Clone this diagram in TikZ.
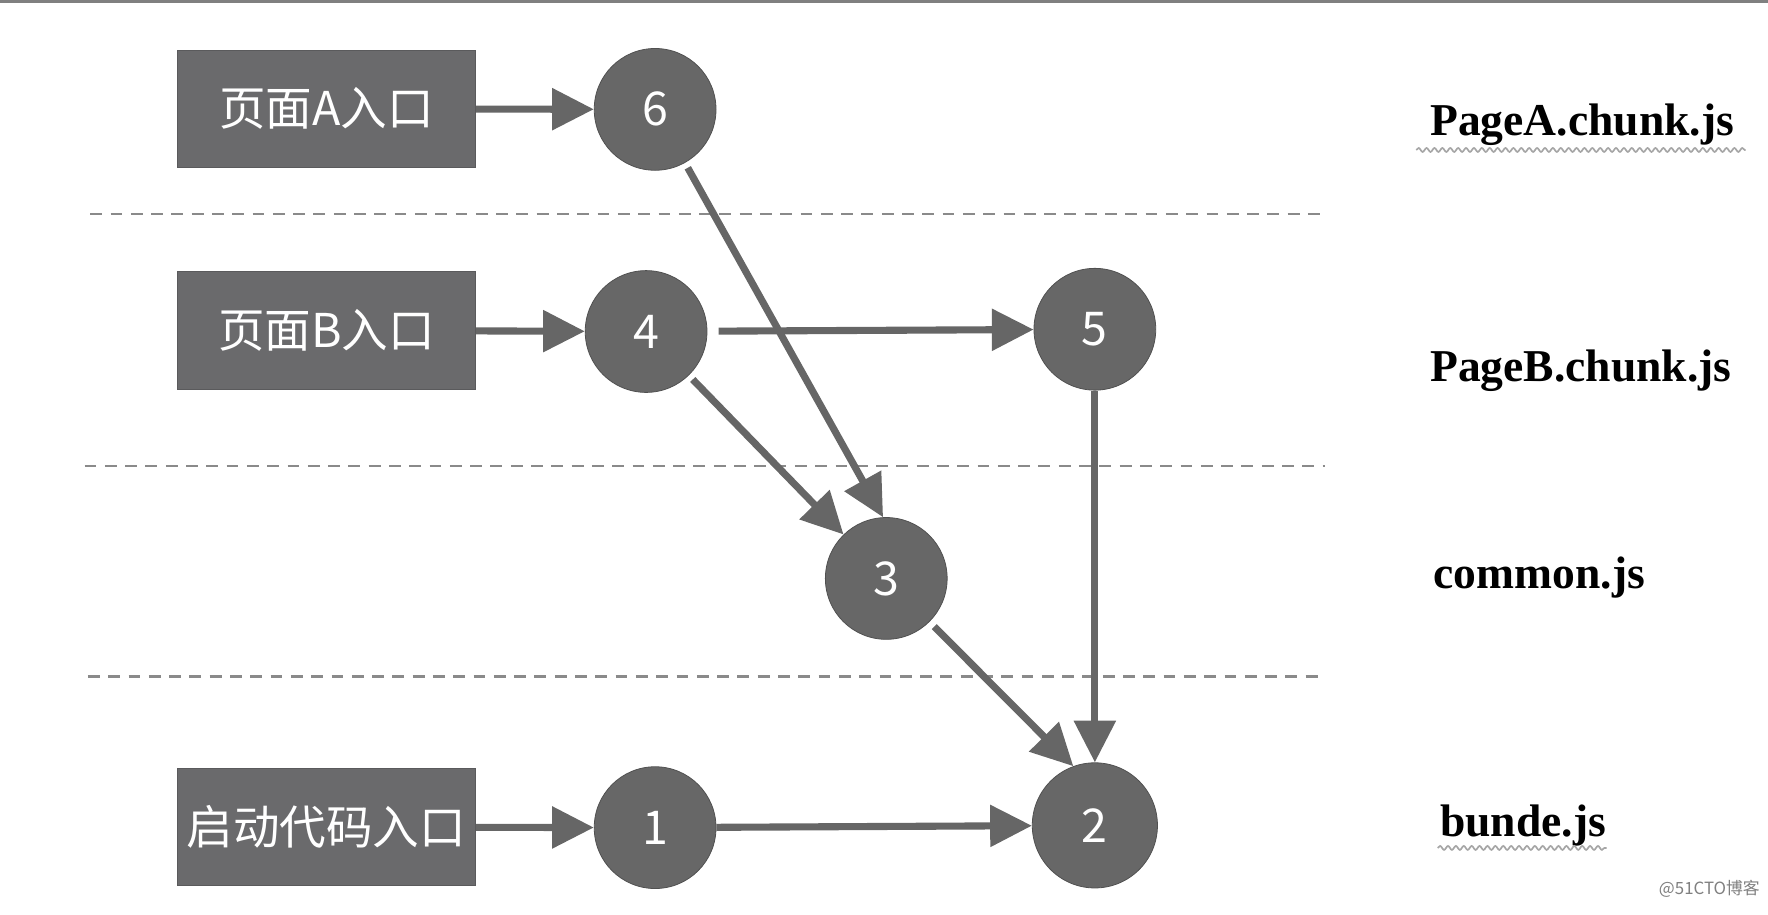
\documentclass[tikz,border=0pt]{standalone}
\usepackage{fontspec}
\setmainfont{Liberation Serif}
\newfontfamily\cjk{Noto Sans CJK SC}
\usepackage{tikz}
\usetikzlibrary{arrows.meta,positioning,decorations.pathmorphing}
\usepackage{xcolor}
\definecolor{boxgray}{HTML}{6A6A6C}
\definecolor{boxedge}{HTML}{5A5A5C}
\definecolor{modgray}{HTML}{676767}
\definecolor{modedge}{HTML}{505050}
\definecolor{linkgray}{HTML}{666666}
\definecolor{dashgray}{HTML}{8A8A8A}
\definecolor{rulegray}{HTML}{808080}

\tikzset{
	link/.style={-{Triangle[length=0.74cm,width=0.72cm]},line width=0.126cm,color=linkgray},
	squiggle/.style={decorate,decoration={snake,amplitude=0.035cm,segment length=0.14cm},line width=0.03cm,draw=gray!70}
}

\begin{document}
\begin{tikzpicture}
\useasboundingbox (0,0) rectangle (31.36,-16.22);
\draw[line width=0.05cm,rulegray] (0,-0.025) -- (31.36,-0.025);

% chunk borders
\begin{scope}[dash pattern=on 0.21cm off 0.15cm,line width=0.04cm,dashgray]
	\draw (1.60,-3.80) -- (23.50,-3.80);
	\draw (1.50,-8.26) -- (23.50,-8.26);
	\draw (1.56,-12.00) -- (23.50,-12.00);
\end{scope}

\begin{scope}[every node/.style={rectangle,draw=boxedge,fill=boxgray,text=white,
	minimum width=5.3cm,minimum height=2.08cm,font=\cjk\fontsize{23.5}{28}\selectfont}]
	\node (entryA) at (5.79,-1.93) {页面A入口};
	\node (entryB) at (5.79,-5.86) {页面B入口};
	\node (entryBoot) at (5.79,-14.67) {启动代码入口};
\end{scope}

\begin{scope}[every node/.style={circle,draw=modedge,fill=modgray,text=white,
	minimum size=2.16cm,inner sep=0pt,font=\cjk\fontsize{23.5}{28}\selectfont}]
	\node (m6) at (11.62,-1.94) {6};
	\node (m4) at (11.46,-5.88) {4};
	\node (m5) at (19.42,-5.84) {5};
	\node (m3) at (15.72,-10.26) {3};
	\node (m1) at (11.62,-14.68) {1};
	\node[minimum size=2.22cm] (m2) at (19.42,-14.64) {2};
\end{scope}

\begin{scope}[every node/.style={anchor=base west,inner sep=0pt,font=\bfseries\fontsize{23}{28}\selectfont}]
	\node (pageA) at (25.36,-2.40) {PageA.chunk.js};
	\node (pageB) at (25.36,-6.76) {PageB.chunk.js};
	\node (common) at (25.42,-10.44) {common.js};
	\node (bundle) at (25.54,-14.84) {bunde.js};
\end{scope}
\draw[squiggle] ([xshift=-0.24cm,yshift=-0.26cm]pageA.base west) -- ([xshift=0.2cm,yshift=-0.26cm]pageA.base east);
\draw[squiggle] ([xshift=-0.04cm,yshift=-0.2cm]bundle.base west) -- ([yshift=-0.2cm]bundle.base east);

\node[font=\cjk\fontsize{8.5}{10}\selectfont,text=gray] (mark) at (30.32,-15.76) {@51CTO博客};

\begin{scope}
	\draw[link] (entryA) edge (m6);
	\draw[link] (entryB) edge (m4);
	\draw[link] (entryBoot) edge (m1);
	\draw[link,shorten <=0.1cm] (m6) edge (m3.93);
	\draw[link,shorten <=0.2cm] (m4) edge (m5);
	\draw[link,shorten <=0.1cm] (m4) edge (m3);
	\draw[link] (m5) edge (m2);
	\draw[link,shorten <=0.12cm] (m3) edge (m2.110);
	\draw[link] (m1) edge (m2);
\end{scope}
\end{tikzpicture}
\end{document}
